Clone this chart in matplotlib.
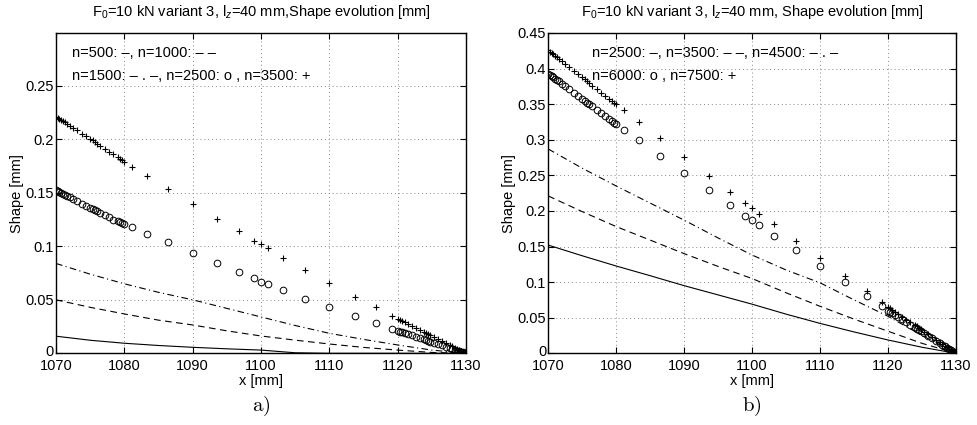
import matplotlib
matplotlib.use("Agg")
import matplotlib.pyplot as plt
import matplotlib.transforms as mtransforms

plt.rcParams['font.family'] = ['Liberation Sans', 'DejaVu Sans']
plt.rcParams['mathtext.fontset'] = 'custom'
plt.rcParams['mathtext.rm'] = 'Liberation Sans'
plt.rcParams['mathtext.it'] = 'Liberation Sans:italic'

# ---------------- data ----------------
# node positions of the mesh (x [mm]) for the marker series
x_nodes = [1070.0, 1070.25, 1070.5, 1070.75, 1071.0, 1071.3, 1071.6, 1072.0, 1072.5, 1073.1,
           1073.8, 1074.4, 1075.0, 1075.4, 1075.7, 1076.0, 1076.5, 1077.1, 1077.8, 1078.4,
           1079.0, 1079.4, 1079.7, 1080.0, 1081.1,
           1083.3, 1086.4, 1090.0, 1093.6, 1096.8, 1099.0, 1100.0, 1101.0, 1103.2, 1106.5,
           1110.0, 1113.7, 1116.9, 1119.1,
           1120.0, 1120.3, 1120.6, 1121.0, 1121.5, 1122.1, 1122.7, 1123.3, 1123.9, 1124.2,
           1124.5, 1124.8, 1125.3, 1125.9, 1126.5, 1127.1, 1127.6, 1128.0, 1128.4, 1128.7,
           1129.0, 1129.3, 1129.6, 1129.8, 1130.0]

# x positions for the line series
x_lines = [1070, 1075, 1080, 1085, 1090, 1095, 1100, 1105, 1110, 1115, 1120, 1125, 1130]

# panel a)
a_n500 = [0.016, 0.0122, 0.0094, 0.0073, 0.0056, 0.0042, 0.003, 0.0005, 0.0, 0.0, 0.0, 0.0, 0.0]
a_n1000 = [0.050, 0.043, 0.0368, 0.031, 0.0265, 0.021, 0.0162, 0.0123, 0.0087, 0.0055, 0.003, 0.0008, 0.0]
a_n1500 = [0.084, 0.074, 0.065, 0.057, 0.050, 0.042, 0.034, 0.026, 0.0187, 0.013, 0.0078, 0.003, 0.0]
a_n2500 = [0.153, 0.152, 0.151, 0.150, 0.149, 0.148, 0.147, 0.146, 0.144, 0.142,
           0.140, 0.138, 0.136, 0.135, 0.134, 0.133, 0.131, 0.129, 0.127, 0.125,
           0.124, 0.123, 0.122, 0.121, 0.118,
           0.112, 0.104, 0.094, 0.084, 0.076, 0.070, 0.067, 0.065, 0.059, 0.051,
           0.043, 0.035, 0.028, 0.023,
           0.021, 0.0203, 0.0197, 0.019, 0.018, 0.0168, 0.0156, 0.0143, 0.013, 0.0124,
           0.0117, 0.011, 0.0099, 0.0086, 0.0073, 0.006, 0.0049, 0.004, 0.0032, 0.0026,
           0.002, 0.0014, 0.0008, 0.0004, 0.0]
a_n3500 = [0.221, 0.220, 0.219, 0.218, 0.217, 0.216, 0.2145, 0.213, 0.211, 0.2085,
           0.2055, 0.203, 0.2005, 0.199, 0.1975, 0.196, 0.194, 0.1915, 0.1885, 0.186,
           0.1835, 0.182, 0.1805, 0.179, 0.174,
           0.166, 0.154, 0.140, 0.126, 0.114, 0.105, 0.102, 0.098, 0.089, 0.078,
           0.066, 0.053, 0.043, 0.035,
           0.032, 0.031, 0.030, 0.029, 0.0275, 0.0256, 0.0237, 0.0218, 0.0198, 0.0189,
           0.018, 0.017, 0.0154, 0.0135, 0.0116, 0.0096, 0.008, 0.0067, 0.0054, 0.0044,
           0.0034, 0.0024, 0.0014, 0.0007, 0.0]

# panel b)
b_n2500 = [0.152, 0.137, 0.1226, 0.109, 0.095, 0.082, 0.069, 0.055, 0.042, 0.030, 0.0187, 0.0085, 0.0]
b_n3500 = [0.221, 0.199, 0.178, 0.159, 0.140, 0.122, 0.105, 0.085, 0.066, 0.048, 0.031, 0.014, 0.0]
b_n4500 = [0.287, 0.260, 0.235, 0.211, 0.187, 0.162, 0.138, 0.117, 0.099, 0.075, 0.052, 0.025, 0.0]
b_n6000 = [0.393, 0.391, 0.389, 0.388, 0.386, 0.384, 0.382, 0.379, 0.375, 0.371,
           0.366, 0.362, 0.357, 0.354, 0.352, 0.350, 0.347, 0.342, 0.337, 0.333,
           0.329, 0.326, 0.324, 0.322, 0.314,
           0.299, 0.277, 0.253, 0.229, 0.208, 0.193, 0.187, 0.180, 0.165, 0.145,
           0.122, 0.100, 0.080, 0.066,
           0.060, 0.058, 0.056, 0.054, 0.051, 0.0475, 0.044, 0.040, 0.0366, 0.0348,
           0.033, 0.0312, 0.0282, 0.0246, 0.021, 0.0174, 0.0144, 0.012, 0.0096, 0.0078,
           0.006, 0.0042, 0.0024, 0.0012, 0.0]
b_n7500 = [0.426, 0.424, 0.422, 0.420, 0.418, 0.416, 0.414, 0.411, 0.407, 0.402,
           0.397, 0.392, 0.388, 0.385, 0.382, 0.380, 0.376, 0.372, 0.366, 0.362,
           0.357, 0.354, 0.352, 0.350, 0.342,
           0.325, 0.303, 0.276, 0.249, 0.227, 0.211, 0.204, 0.196, 0.181, 0.158,
           0.134, 0.109, 0.088, 0.0725,
           0.065, 0.063, 0.061, 0.058, 0.055, 0.051, 0.047, 0.0435, 0.0396, 0.0377,
           0.0357, 0.0338, 0.0306, 0.0267, 0.0228, 0.0189, 0.0156, 0.013, 0.0104, 0.0085,
           0.0065, 0.0046, 0.0026, 0.0013, 0.0]

x_ticks = [1070, 1080, 1090, 1100, 1110, 1120, 1130]
a_yticks = [0, 0.05, 0.1, 0.15, 0.2, 0.25]
a_yticklabels = ['0', '0.05', '0.1', '0.15', '0.2', '0.25']
b_yticks = [0, 0.05, 0.1, 0.15, 0.2, 0.25, 0.3, 0.35, 0.4, 0.45]
b_yticklabels = ['0', '0.05', '0.1', '0.15', '0.2', '0.25', '0.3', '0.35', '0.4', '0.45']

title_a = 'F$_0$=10 kN variant 3, l$_z$=40 mm,Shape evolution [mm]'
title_b = 'F$_0$=10 kN variant 3, l$_z$=40 mm, Shape evolution [mm]'
ann_a = ['n=500: \u2013, n=1000: \u2013 \u2013',
         'n=1500: \u2013 . \u2013, n=2500: o , n=3500: +']
ann_b = ['n=2500: \u2013, n=3500: \u2013 \u2013, n=4500: \u2013 . \u2013',
         'n=6000: o , n=7500: +']

# ---------------- figure ----------------
W, H = 978, 425
fig = plt.figure(figsize=(W / 100, H / 100), dpi=100)


def px_axes(l, r, t, b):
    return fig.add_axes([l / W, 1 - b / H, (r - l) / W, (b - t) / H])


ax_a = px_axes(56, 466, 33, 353.3)
ax_b = px_axes(548.3, 956, 33, 353.3)

lw = 0.8
dash = (0, (6, 4))
dashdot = (0, (6, 3, 1, 3))


def style(ax, ylim, yticks, ylabels, title, anns, annx, letter):
    ax.set_xlim(1070, 1130)
    ax.set_ylim(*ylim)
    ax.set_xticks(x_ticks)
    ax.set_xticklabels([str(v) for v in x_ticks])
    ax.set_yticks(yticks)
    ax.set_yticklabels(ylabels)
    ax.tick_params(direction='in', top=True, right=True, labelsize=10.5, length=4)
    ax.tick_params(axis='y', pad=1.5)
    ax.tick_params(axis='x', pad=4)
    # lift the "0" label a little, as in the reference, so it sits just above "1070"
    zero = ax.get_yticklabels()[0]
    zero.set_transform(zero.get_transform() +
                       mtransforms.ScaledTranslation(0, 0.03, fig.dpi_scale_trans))
    ax.grid(True, linestyle=(0, (1, 3)), color='#888888', linewidth=0.7)
    for s in ax.spines.values():
        s.set_linewidth(1.0)
    ax.set_xlabel('x [mm]', fontsize=10.5, labelpad=1)
    ax.set_ylabel('Shape [mm]', fontsize=10.5, labelpad=1)
    ax.set_title(title, fontsize=10.5, pad=12)
    ax.text(annx, 0.937, anns[0], transform=ax.transAxes, fontsize=10.5, va='center', ha='left')
    ax.text(annx, 0.866, anns[1], transform=ax.transAxes, fontsize=10.5, va='center', ha='left')
    ax.text(0.5, -0.165, r'$\mathrm{' + letter + ')}$', transform=ax.transAxes,
            fontsize=15, ha='center', va='center', math_fontfamily='cm')


mk = dict(linestyle='none', color='black')

ax_a.plot(x_lines, a_n500, color='black', lw=lw, linestyle='-')
ax_a.plot(x_lines, a_n1000, color='black', lw=lw, linestyle=dash)
ax_a.plot(x_lines, a_n1500, color='black', lw=lw, linestyle=dashdot)
ax_a.plot(x_nodes, a_n2500, marker='o', markersize=4.8, markerfacecolor='none', markeredgewidth=0.7, **mk)
ax_a.plot(x_nodes, a_n3500, marker='+', markersize=5, markeredgewidth=0.8, **mk)
style(ax_a, (0, 0.2995), a_yticks, a_yticklabels, title_a, ann_a, 0.038, 'a')

ax_b.plot(x_lines, b_n2500, color='black', lw=lw, linestyle='-')
ax_b.plot(x_lines, b_n3500, color='black', lw=lw, linestyle=dash)
ax_b.plot(x_lines, b_n4500, color='black', lw=lw, linestyle=dashdot)
ax_b.plot(x_nodes, b_n6000, marker='o', markersize=4.8, markerfacecolor='none', markeredgewidth=0.7, **mk)
ax_b.plot(x_nodes, b_n7500, marker='+', markersize=5, markeredgewidth=0.8, **mk)
style(ax_b, (0, 0.45), b_yticks, b_yticklabels, title_b, ann_b, 0.106, 'b')

fig.savefig('out.png', dpi=100)
